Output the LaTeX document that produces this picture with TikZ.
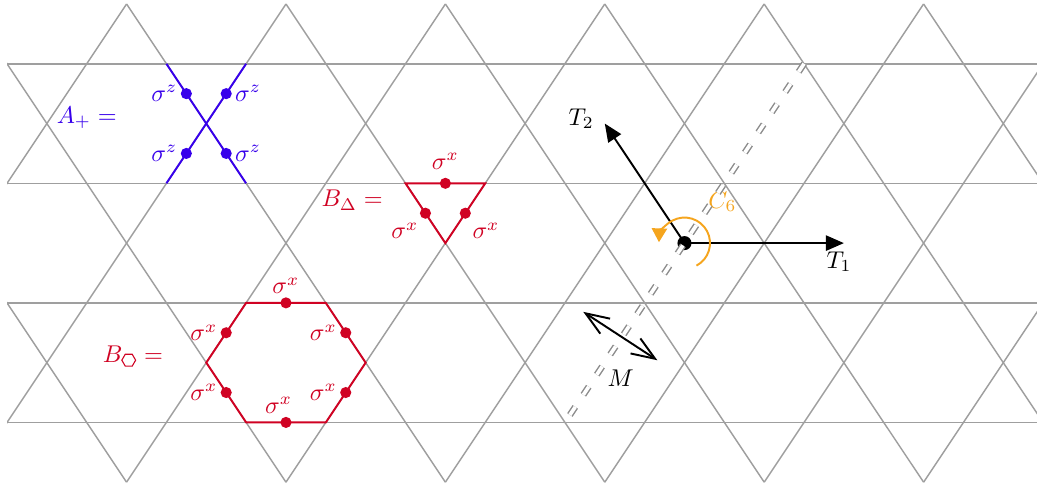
\documentclass[tikz,border=0pt]{standalone}
\usepackage{amsmath,amssymb}
\usepackage{xcolor}
\usepackage{tikz}
\usetikzlibrary{arrows.meta,positioning,calc}

\definecolor{opblue}{RGB}{55,0,235}
\definecolor{opred}{RGB}{208,2,35}
\definecolor{symorange}{RGB}{245,165,30}

% small hexagon for the plaquette subscript
\newcommand{\hexsub}{\tikz[baseline=-0.6ex]\draw[opred, line width=0.45pt]
  (0:0.1cm) -- (60:0.1cm) -- (120:0.1cm) -- (180:0.1cm) -- (240:0.1cm) -- (300:0.1cm) -- cycle;}

\begin{document}
\begin{tikzpicture}[
  x=1.1547cm, y=0.866cm,
  lattice/.style={gray!75, semithick},
  opline/.style={thick},
  spinsite/.style={circle, fill, inner sep=0pt, minimum size=4.6pt},
  slab/.style={inner sep=1pt},
  transl/.style={thick, -{Triangle[length=2.6mm,width=2.2mm]}},
  mirrorline/.style={gray!90, line width=0.6pt, double=white, double distance=1.5pt,
                     dash pattern=on 4pt off 6pt}
]
  \useasboundingbox (-0.088,-0.084) rectangle (12.923,8.067);

  % kagome lattice
  \begin{scope}
    \clip (0,-0.1) rectangle (12.923,8.1);
    \foreach \y in {1,3,5,7}
      \draw[lattice] (0,\y) -- (13,\y);
    \foreach \k in {-4,...,8} {
      \draw[lattice] (2*\k+1.5,8) -- ++(4,-8);
      \draw[lattice] (2*\k+1.5,8) -- ++(-4,-8);
    }
  \end{scope}

  % star operator A_+
  \coordinate (an1) at (2,7);
  \coordinate (an2) at (3,7);
  \coordinate (as1) at (2,5);
  \coordinate (as2) at (3,5);
  \draw[opline, opblue] (an1) -- (as2);
  \draw[opline, opblue] (an2) -- (as1);
  \node[spinsite, opblue] (az1) at (2.25,6.5) {};
  \node[spinsite, opblue] (az2) at (2.75,6.5) {};
  \node[spinsite, opblue] (az3) at (2.25,5.5) {};
  \node[spinsite, opblue] (az4) at (2.75,5.5) {};
  \node[slab, opblue, left=0pt of az1] (lz1) {$\sigma^z$};
  \node[slab, opblue, right=0pt of az2] (lz2) {$\sigma^z$};
  \node[slab, opblue, left=0pt of az3] (lz3) {$\sigma^z$};
  \node[slab, opblue, right=0pt of az4] (lz4) {$\sigma^z$};
  \node[opblue] (alab) at (1.0,6.1) {$A_+ =$};

  % triangle operator B_Delta
  \coordinate (d1) at (5,5);
  \coordinate (d2) at (6,5);
  \coordinate (d3) at (5.5,4);
  \draw[opline, opred] (d1) -- (d2) -- (d3) -- cycle;
  \node[spinsite, opred] (dx1) at (5.5,5) {};
  \node[spinsite, opred] (dx2) at (5.25,4.5) {};
  \node[spinsite, opred] (dx3) at (5.75,4.5) {};
  \node[slab, opred, above=2pt of dx1] (ldx1) {$\sigma^x$};
  \node[slab, opred, below left=1pt and 0pt of dx2] (ldx2) {$\sigma^x$};
  \node[slab, opred, below right=1pt and 0pt of dx3] (ldx3) {$\sigma^x$};
  \node[opred] (dlab) at (4.33,4.72) {$B_\Delta =$};

  % hexagon operator B_hex
  \coordinate (h1) at (2.5,2);
  \coordinate (h2) at (3,3);
  \coordinate (h3) at (4,3);
  \coordinate (h4) at (4.5,2);
  \coordinate (h5) at (4,1);
  \coordinate (h6) at (3,1);
  \draw[opline, opred] (h1) -- (h2) -- (h3) -- (h4) -- (h5) -- (h6) -- cycle;
  \node[spinsite, opred] (hx1) at (3.5,3) {};
  \node[spinsite, opred] (hx2) at (2.75,2.5) {};
  \node[spinsite, opred] (hx3) at (4.25,2.5) {};
  \node[spinsite, opred] (hx4) at (2.75,1.5) {};
  \node[spinsite, opred] (hx5) at (4.25,1.5) {};
  \node[spinsite, opred] (hx6) at (3.5,1) {};
  \node[slab, opred, above=0pt of hx1] (lhx1) {$\sigma^x$};
  \node[slab, opred, left=0pt of hx2] (lhx2) {$\sigma^x$};
  \node[slab, opred, left=0pt of hx3] (lhx3) {$\sigma^x$};
  \node[slab, opred, left=0pt of hx4] (lhx4) {$\sigma^x$};
  \node[slab, opred, left=0pt of hx5] (lhx5) {$\sigma^x$};
  \node[slab, opred, above=0pt of hx6, xshift=-3pt] (lhx6) {$\sigma^x$};
  \node[opred] (hlab) at (1.58,2.11) {$B_{\hexsub} =$};

  % translations and rotation
  \node[circle, fill=black, inner sep=0pt, minimum size=5.8pt] (origin) at (8.5,4) {};
  \coordinate (t1end) at (10.5,4);
  \coordinate (t2end) at (7.5,6);
  \draw[transl] (origin.center) -- (t1end);
  \draw[transl] (origin.center) -- (t2end);
  \node[below=0pt of t1end, xshift=-2pt] (t1lab) {$T_1$};
  \node[left=1pt of t2end, yshift=2pt] (t2lab) {$T_2$};
  \draw[thick, symorange, -{Triangle[length=2mm,width=2.2mm]}]
    ($(origin.center)+(-62:0.37cm)$) arc[start angle=-62, end angle=178, radius=0.37cm];
  \node[symorange] (c6lab) at ($(origin.center)+(0.55cm,0.6cm)$) {$C_6$};

  % mirror
  \coordinate (mtop) at (10,7);
  \coordinate (mbot) at (7.05,1.1);
  \draw[mirrorline] (mtop) -- (mbot);
  \coordinate (ma) at (7.23,2.85);
  \coordinate (mb) at (8.16,2.04);
  \draw[thick, {Straight Barb[length=3.4mm,width=2.6mm]}-{Straight Barb[length=3.4mm,width=2.6mm]}] (ma) -- (mb);
  \node (mlab) at (7.7,1.74) {$M$};
\end{tikzpicture}
\end{document}
